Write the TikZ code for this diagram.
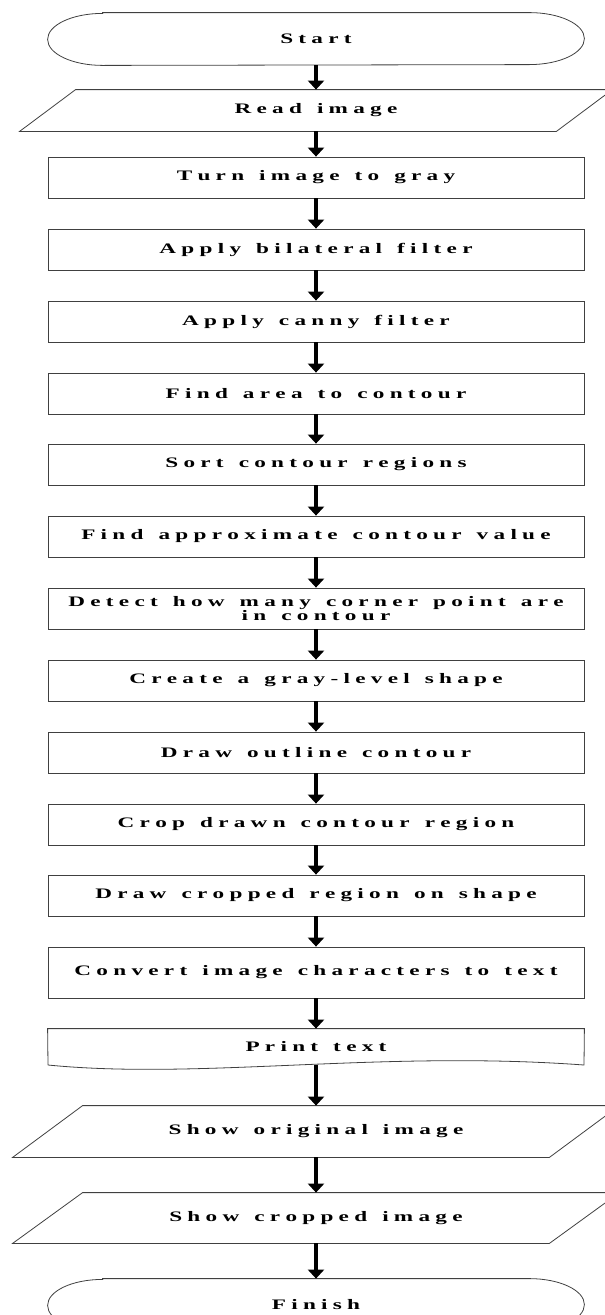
\documentclass[tikz,border=0pt]{standalone}
\usepackage{fontspec}
\usepackage{graphicx}
\usetikzlibrary{arrows.meta}
\newfontfamily\flowfont{Liberation Serif}
\newdimen\lsk \lsk=3.3pt
\newdimen\lsw \lsw=9.4pt
\makeatletter
\def\lsword#1{\@tfor\lsc:=#1\do{\lsc\kern\lsk}\unkern}
\def\lsA#1 #2\@nil{\lsword{#1}\ifx\relax#2\relax\else\hskip\lsw\lsA#2\@nil\fi}
\newcommand\T[1]{\scalebox{1.6}[1]{\flowfont\bfseries\fontsize{14.5pt}{14pt}\selectfont\lsA#1 \@nil}}
\makeatother
\tikzset{
  box/.style={draw=black!75, line width=0.8pt, minimum width=536pt, minimum height=41pt,
    inner sep=0pt, text width=532pt, align=center},
  plain/.style={box, draw=none},
  arr/.style={line width=4.5pt, -{Triangle[width=16pt,length=9pt]}},
  edge/.style={draw=black!75, line width=0.8pt}
}
\begin{document}
\begin{tikzpicture}[x=1pt,y=-1pt]
\useasboundingbox (0,0) rectangle (605,1315);
% nodes
\node[plain, minimum height=52pt] (start) at (316,39) {\T{Start}};
\node[plain] (read) at (316,110.5) {\T{Read image}};
\node[box] (gray) at (316,177.5) {\T{Turn image to gray}};
\node[box] (bil) at (316,249.5) {\T{Apply bilateral filter}};
\node[box] (canny) at (316,321.5) {\T{Apply canny filter}};
\node[box] (area) at (316,393.5) {\T{Find area to contour}};
\node[box] (sort) at (316,464.5) {\T{Sort contour regions}};
\node[box] (approx) at (316,536.5) {\T{Find approximate contour value}};
\node[box] (detect) at (316,608.5) {\T{Detect how many corner point are}\\\T{in contour}};
\node[box] (create) at (316,680.5) {\T{Create a gray-level shape}};
\node[box] (outline) at (316,752.5) {\T{Draw outline contour}};
\node[box] (crop) at (316,824.5) {\T{Crop drawn contour region}};
\node[box] (drawcrop) at (316,895.5) {\T{Draw cropped region on shape}};
\node[box, minimum height=51pt] (convert) at (316,972.5) {\T{Convert image characters to text}};
\node[plain, minimum height=36pt] (print) at (316,1047) {\T{Print text}};
\node[plain, minimum height=51pt] (showorig) at (316,1131.5) {\T{Show original image}};
\node[plain, minimum height=50pt] (showcrop) at (316,1218) {\T{Show cropped image}};
\node[plain, minimum height=52pt] (finish) at (316,1305) {\T{Finish}};
% terminals
\draw[edge] ([xshift=55pt]start.north west) -- ([xshift=-55pt]start.north east)
  arc[start angle=90,end angle=-90,x radius=55pt,y radius=26pt]
  -- ([xshift=55pt]start.south west)
  arc[start angle=270,end angle=90,x radius=55pt,y radius=26pt] -- cycle;
\draw[edge] ([xshift=55pt]finish.north west) -- ([xshift=-55pt]finish.north east)
  arc[start angle=90,end angle=-90,x radius=55pt,y radius=26pt]
  -- ([xshift=55pt]finish.south west)
  arc[start angle=270,end angle=90,x radius=55pt,y radius=26pt] -- cycle;
% parallelograms
\draw[edge] ([xshift=28pt]read.north west) -- ([xshift=28pt]read.north east)
  -- ([xshift=-28pt]read.south east) -- ([xshift=-28pt]read.south west) -- cycle;
\draw[edge] ([xshift=35pt]showorig.north west) -- ([xshift=35pt]showorig.north east)
  -- ([xshift=-35pt]showorig.south east) -- ([xshift=-35pt]showorig.south west) -- cycle;
\draw[edge] ([xshift=35pt]showcrop.north west) -- ([xshift=35pt]showcrop.north east)
  -- ([xshift=-35pt]showcrop.south east) -- ([xshift=-35pt]showcrop.south west) -- cycle;
% document shape
\draw[edge] (48,1065) -- (print.north west) -- (print.north east) -- (584,1065)
  .. controls (380,1050) and (200,1080) .. (48,1065);
% arrows
\foreach \a/\b in {start/read, read/gray, gray/bil, bil/canny, canny/area, area/sort,
  sort/approx, approx/detect, detect/create, create/outline, outline/crop,
  crop/drawcrop, drawcrop/convert, convert/print, print/showorig,
  showorig/showcrop, showcrop/finish}
  \draw[arr] (\a.south) -- (\b.north);
\end{tikzpicture}
\end{document}
